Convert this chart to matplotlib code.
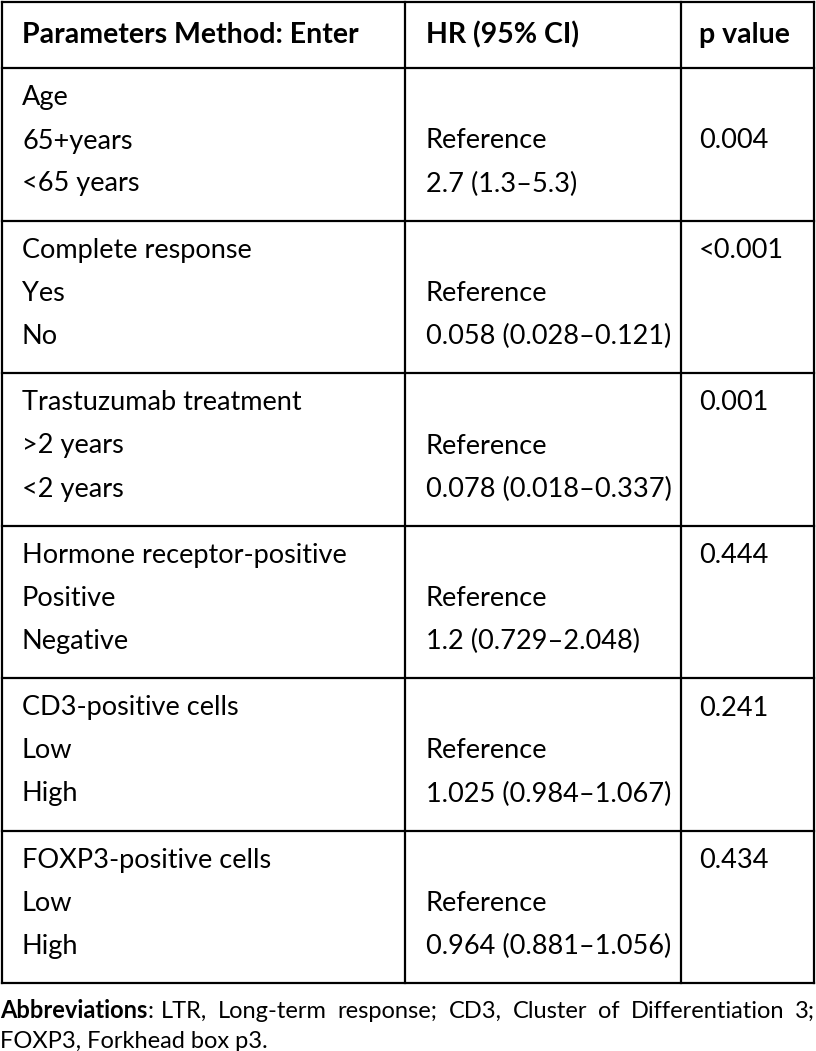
import matplotlib
matplotlib.use("Agg")
import matplotlib.pyplot as plt

# table content
header = ["Parameters Method: Enter", "HR (95% CI)", "p value"]
groups = ["Age", "Complete response", "Trastuzumab treatment",
          "Hormone receptor-positive", "CD3-positive cells", "FOXP3-positive cells"]
levels = [("65+years", "<65 years"), ("Yes", "No"), (">2 years", "<2 years"),
          ("Positive", "Negative"), ("Low", "High"), ("Low", "High")]
hr_ref = ["Reference"] * 6
hr_vals = ["2.7 (1.3\u20135.3)", "0.058 (0.028\u20130.121)", "0.078 (0.018\u20130.337)",
           "1.2 (0.729\u20132.048)", "1.025 (0.984\u20131.067)", "0.964 (0.881\u20131.056)"]
p_vals = ["0.004", "<0.001", "0.001", "0.444", "0.241", "0.434"]
p_line = [1, 0, 0, 0, 0, 0]   # which text line the p value sits on
footer_bold = "Abbreviations"
footer_rest = ": LTR, Long-term response; CD3, Cluster of Differentiation 3;"
footer_2 = "FOXP3, Forkhead box p3."

W, H = 816, 1051
fig = plt.figure(figsize=(W / 100, H / 100), dpi=100)
ax = fig.add_axes([0, 0, 1, 1])
ax.set_xlim(0, W)
ax.set_ylim(H, 0)
ax.axis('off')

FONT = "Lato"
FS = 19.5
HFS = 20.5
col_x = [2, 405, 681, 814]
text_x = [22, 426, 699]
top, head_bot = 2, 68
row_h = 152.5
line_gap = 43

lw = 1.6
# horizontal rules
ys = [top, head_bot] + [head_bot + row_h * (i + 1) for i in range(len(groups))]
for y in ys:
    ax.plot([col_x[0], col_x[-1]], [y, y], color='black', lw=lw, solid_capstyle='projecting')
for x in col_x:
    ax.plot([x, x], [top, ys[-1]], color='black', lw=lw, solid_capstyle='projecting')

# header
for tx, h in zip(text_x, header):
    ax.text(tx, 35, h, fontsize=HFS, fontweight='bold', family=FONT, va='center', ha='left')

# body
for i, g in enumerate(groups):
    y0 = head_bot + row_h * i + 30
    lines = [y0, y0 + line_gap, y0 + 2 * line_gap]
    ax.text(text_x[0], lines[0], g, fontsize=FS, family=FONT, va='center')
    ax.text(text_x[0], lines[1], levels[i][0], fontsize=FS, family=FONT, va='center')
    ax.text(text_x[0], lines[2], levels[i][1], fontsize=FS, family=FONT, va='center')
    ax.text(text_x[1], lines[1], hr_ref[i], fontsize=FS, family=FONT, va='center')
    ax.text(text_x[1], lines[2], hr_vals[i], fontsize=FS, family=FONT, va='center')
    ax.text(text_x[2], lines[p_line[i]], p_vals[i], fontsize=FS, family=FONT, va='center')

# footer, first line justified to the table width
FFS = 17
fy1, fy2 = 1011, 1042
words = footer_rest.split(" ")
pieces = [ax.text(0, fy1, footer_bold + words[0], fontsize=FFS, family=FONT, va='center')]
pieces += [ax.text(0, fy1, w, fontsize=FFS, family=FONT, va='center') for w in words[1:]]
fig.canvas.draw()
r = fig.canvas.get_renderer()
to_data = ax.transData.inverted()
widths = []
for p in pieces:
    bb = p.get_window_extent(r)
    (x0, _), (x1, _) = to_data.transform([(bb.x0, bb.y0), (bb.x1, bb.y0)])
    widths.append(x1 - x0)
gap = (815 - sum(widths)) / (len(pieces) - 1)
x = 0
for p, w in zip(pieces, widths):
    p.set_x(x)
    x += w + gap
pieces[0].set_text("")
bold = ax.text(0, fy1, footer_bold, fontsize=FFS, fontweight='bold', family=FONT, va='center')
bbb = bold.get_window_extent(r)
(bx0, _), (bx1, _) = to_data.transform([(bbb.x0, 0), (bbb.x1, 0)])
ax.text(bx1 - bx0, fy1, words[0], fontsize=FFS, family=FONT, va='center')
ax.text(0, fy2, footer_2, fontsize=FFS, family=FONT, va='center')

fig.savefig("out.png", dpi=100)
plt.close(fig)
